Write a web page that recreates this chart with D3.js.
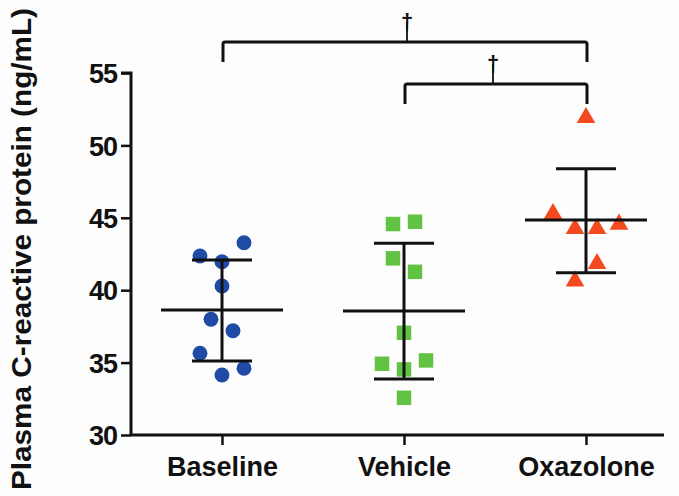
<!DOCTYPE html>
<html>
<head>
<meta charset="utf-8">
<script src="https://cdn.jsdelivr.net/npm/d3@7"></script>
<style>
  html, body { margin: 0; padding: 0; background: #fdfdfd; }
  svg { display: block; }
  text { font-family: "Liberation Sans", Arial, sans-serif; font-weight: bold; fill: #111; }
</style>
</head>
<body>
<svg id="chart" width="679" height="496"></svg>
<script>
// ---- data ----
const categories = ["Baseline", "Vehicle", "Oxazolone"];
const baselineValues = [43.28, 42.36, 41.97, 40.29, 37.99, 37.20, 35.64, 34.14, 34.61];
const baselineSlots  = [1, -1, 0, 0, -0.5, 0.5, -1, 0, 1];
const vehicleValues  = [44.57, 44.73, 42.20, 41.27, 37.06, 34.92, 35.15, 34.53, 32.57];
const vehicleSlots   = [-0.5, 0.5, -0.5, 0.5, 0, -1, 1, 0, 0];
const oxazoloneValues = [51.98, 45.35, 44.32, 44.32, 44.62, 41.90, 40.70];
const oxazoloneSlots  = [0, -1.5, -0.5, 0.5, 1.5, 0.5, -0.5];
const means  = [38.63, 38.56, 44.85];
const sdHigh = [42.09, 43.24, 48.39];
const sdLow  = [35.11, 33.87, 41.21];
const yTicks = [30, 35, 40, 45, 50, 55];
const yTitle = "Plasma C-reactive protein (ng/mL)";
const comparisons = [["Baseline", "Oxazolone"], ["Vehicle", "Oxazolone"]];
const compLabels = ["†", "†"];

// ---- layout ----
const svg = d3.select("#chart");
const axisX = 131, axisY = 435;
const x = d3.scalePoint().domain(categories).range([222, 586]);
const y = d3.scaleLinear().domain([30, 55]).range([435, 73]);
const jitter = d3.scaleLinear().domain([-1, 1]).range([-22, 22]);
const colors = ["#1f4aa6", "#62c244", "#f24a1e"];
const shapes = [d3.symbolCircle, d3.symbolSquare, d3.symbolTriangle];
const sizes = [175, 210, 150];
const FONT = "Liberation Sans, Arial, sans-serif";

const groups = [
  { cat: "Baseline", vals: baselineValues, slots: baselineSlots },
  { cat: "Vehicle", vals: vehicleValues, slots: vehicleSlots },
  { cat: "Oxazolone", vals: oxazoloneValues, slots: oxazoloneSlots }
];

// y axis
const yAxis = d3.axisLeft(y).tickValues(yTicks).tickSize(10).tickPadding(4).tickFormat(d3.format("d"));
const yg = svg.append("g").attr("transform", `translate(${axisX},0)`).call(yAxis);
yg.select(".domain").attr("stroke", "#111").attr("stroke-width", 3).attr("d", `M-10,${y(55)}H0V${axisY}`);
yg.selectAll(".tick line").attr("stroke", "#111").attr("stroke-width", 2.5);
yg.selectAll(".tick text").attr("font-size", 27).attr("font-family", FONT).attr("font-weight", "bold")
  .attr("fill", "#111").attr("dy", "0.36em").attr("letter-spacing", -1);

// x axis
const xAxis = d3.axisBottom(x).tickSize(10).tickPadding(12);
const xg = svg.append("g").attr("transform", `translate(0,${axisY})`).call(xAxis);
xg.select(".domain").attr("stroke", "#111").attr("stroke-width", 3).attr("d", `M${axisX},0H664`);
xg.selectAll(".tick line").attr("stroke", "#111").attr("stroke-width", 2.5);
xg.selectAll(".tick text").attr("font-size", 27).attr("font-family", FONT).attr("font-weight", "bold")
  .attr("fill", "#111").attr("dy", "0.71em");

// y title
svg.append("text")
  .attr("transform", `translate(31,${249}) rotate(-90)`)
  .attr("text-anchor", "middle")
  .attr("font-size", 27)
  .attr("textLength", 482)
  .attr("lengthAdjust", "spacingAndGlyphs")
  .text(yTitle);

// points
groups.forEach((g, gi) => {
  const sym = d3.symbol().type(shapes[gi]).size(sizes[gi]);
  svg.append("g").selectAll("path").data(g.vals).join("path")
    .attr("d", sym)
    .attr("transform", (d, i) => `translate(${x(g.cat) + jitter(g.slots[i])},${y(d) + (gi === 2 ? 1 : 0)})`)
    .attr("fill", colors[gi]);
});

// mean and SD bars
const bars = svg.append("g").attr("stroke", "#111").attr("stroke-width", 3).attr("fill", "none");
categories.forEach((c, i) => {
  const cx = x(c);
  bars.append("line").attr("x1", cx - 61).attr("x2", cx + 61).attr("y1", y(means[i])).attr("y2", y(means[i]));
  bars.append("line").attr("x1", cx).attr("x2", cx).attr("y1", y(sdHigh[i])).attr("y2", y(sdLow[i]));
  bars.append("line").attr("x1", cx - 30).attr("x2", cx + 30).attr("y1", y(sdHigh[i])).attr("y2", y(sdHigh[i]));
  bars.append("line").attr("x1", cx - 30).attr("x2", cx + 30).attr("y1", y(sdLow[i])).attr("y2", y(sdLow[i]));
});

// significance brackets
const bracketTop = [42, 84], bracketLeg = 20;
comparisons.forEach((cmp, i) => {
  const x1 = x(cmp[0]) + 1, x2 = x(cmp[1]) + 1, yb = bracketTop[i];
  svg.append("path")
    .attr("d", `M${x1},${yb + bracketLeg}V${yb + 2}Q${x1},${yb} ${x1 + 2},${yb}H${x2 - 2}Q${x2},${yb} ${x2},${yb + 2}V${yb + bracketLeg}`)
    .attr("fill", "none").attr("stroke", "#111").attr("stroke-width", 3);
  const mx = (x1 + x2) / 2 + (i === 0 ? 2 : -3);
  svg.append("line").attr("x1", mx).attr("x2", mx).attr("y1", yb - 20).attr("y2", yb)
    .attr("stroke", "#111").attr("stroke-width", 1.8);
  svg.append("text").attr("x", mx).attr("y", yb - 13).attr("text-anchor", "middle")
    .attr("font-size", 22).text(compLabels[i]);
});
</script>
</body>
</html>
